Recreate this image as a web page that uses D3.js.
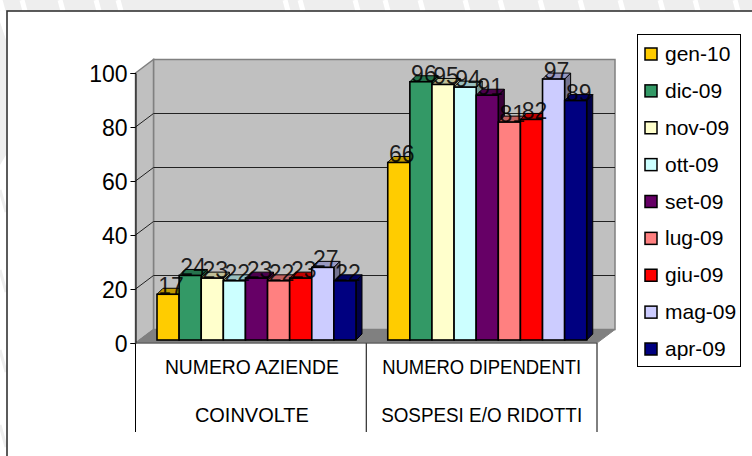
<!DOCTYPE html>
<html><head><meta charset="utf-8">
<script src="https://cdn.jsdelivr.net/npm/d3@7"></script>
<style>
html,body{margin:0;padding:0;background:#fff}
svg{display:block}
text{font-family:"Liberation Sans",Arial,sans-serif;fill:#000}
</style></head><body><div id="c"></div>
<script>
const categoryLine1 = ["NUMERO AZIENDE","NUMERO DIPENDENTI"];
const categoryLine2 = ["COINVOLTE","SOSPESI E/O RIDOTTI"];
const seriesNames = ["gen-10","dic-09","nov-09","ott-09","set-09","lug-09","giu-09","mag-09","apr-09"];
const seriesColors = ["#ffcc00","#339966","#ffffcc","#ccffff","#660066","#ff8080","#ff0000","#ccccff","#000080"];
const aziende = [17,24,23,22,23,22,23,27,22];
const dipendenti = [66,96,95,94,91,81,82,97,89];
const yTicks = [0,20,40,60,80,100];
const W=752,H=456;
const svg=d3.select("#c").append("svg").attr("width",W).attr("height",H);

// faint slide background showing around the frame
svg.append("rect").attr("x",0).attr("y",0).attr("width",W).attr("height",11).attr("fill","#eeeeee");
svg.append("path").attr("d","M0,22L6,40L6,155L0,165Z").attr("fill","#eeeeee");
svg.append("g").selectAll("path").data([0,22,60,96,118,285,300,355,385,420,465,500,540,580,620,660,695,735]).join("path")
  .attr("d",d=>`M${d},0L${d+3},11`).attr("stroke","#fff").attr("stroke-width",5);
svg.append("g").selectAll("path").data([190,270,350,425]).join("path")
  .attr("d",d=>`M0,${d}L6,${d+22}`).attr("stroke","#eeeeee").attr("stroke-width",3);

// frame
svg.append("rect").attr("x",7).attr("y",11).attr("width",W-7+5).attr("height",H-11+5).attr("fill","#fff").attr("stroke","#333").attr("stroke-width",1.6);

const depth={x:18,y:-13.5};
const y=d3.scaleLinear().domain([0,100]).range([343,73]);
const yBar=d3.scaleLinear().domain([0,100]).range([340,71]);
const x0=d3.scaleBand().domain([0,1]).range([135.5,597]);
const x1=d3.scaleBand().domain(seriesNames).range([21.5,220.5]);
const grey="#808080", wall="#c0c0c0";
const xL=x0.range()[0], xR=x0.range()[1];

// back wall
svg.append("rect").attr("x",xL+depth.x).attr("y",y(100)+depth.y).attr("width",xR-xL).attr("height",y(0)-y(100))
 .attr("fill",wall).attr("stroke",grey).attr("stroke-width",1.5);
// side wall
svg.append("path").attr("d",`M${xL},${y(100)}L${xL+depth.x},${y(100)+depth.y}L${xL+depth.x},${y(0)+depth.y}L${xL},${y(0)}Z`)
 .attr("fill",wall).attr("stroke",grey).attr("stroke-width",1.5);
// floor
svg.append("path").attr("d",`M${xL},${y(0)}L${xL+depth.x},${y(0)+depth.y}L${xR+depth.x},${y(0)+depth.y}L${xR},${y(0)}Z`)
 .attr("fill",grey).attr("stroke",grey);
// gridlines
yTicks.filter(t=>t>0&&t<100).forEach(t=>{
  svg.append("path").attr("d",`M${xL},${y(t)}L${xL+depth.x},${y(t)+depth.y}L${xR+depth.x},${y(t)+depth.y}`)
   .attr("fill","none").attr("stroke","#222").attr("stroke-width",1);
});

// y axis
const axis=d3.axisLeft(y).tickValues(yTicks).tickSize(5).tickPadding(3);
const ga=svg.append("g").attr("transform",`translate(${xL},0)`).call(axis);
ga.selectAll("path,line").attr("stroke","#000").attr("stroke-width",1);
ga.selectAll("text").style("font-size","23px").style("font-family",'"Liberation Sans"').attr("dy","0.36em");

// category dividers
[0,1,2].forEach(i=>{
  const px=xL+i*x0.bandwidth();
  svg.append("line").attr("x1",px).attr("x2",px).attr("y1",y(0)).attr("y2",432).attr("stroke","#000");
});
svg.append("line").attr("x1",xL).attr("x2",xR).attr("y1",y(0)).attr("y2",y(0)).attr("stroke","#555");

const labels=[];
[aziende,dipendenti].forEach((vals,g)=>{
  const gg=svg.append("g");
  vals.forEach((v,i)=>{
    const name=seriesNames[i], c=d3.color(seriesColors[i]);
    const l=x0(g)+x1(name), r=l+x1.bandwidth(), t=yBar(v), b=yBar(0), dx=6, dy=-6;
    gg.append("path").attr("d",`M${r},${b}L${r+dx},${b+dy}L${r+dx},${t+dy}L${r},${t}Z`).attr("fill",c.darker(1.6)).attr("stroke","#000").attr("stroke-width",1);
    gg.append("path").attr("d",`M${l},${t}L${l+dx},${t+dy}L${r+dx},${t+dy}L${r},${t}Z`).attr("fill",c.darker(0.8)).attr("stroke","#000").attr("stroke-width",1);
  });
  vals.forEach((v,i)=>{
    const name=seriesNames[i];
    const l=x0(g)+x1(name), t=yBar(v), b=yBar(0);
    gg.append("rect").attr("x",l).attr("y",t).attr("width",x1.bandwidth()).attr("height",b-t)
      .attr("fill",seriesColors[i]).attr("stroke","#000").attr("stroke-width",1.6);
    labels.push({v,x:l+x1.bandwidth()/2+3,y:t});
  });
});
svg.append("g").selectAll("text").data(labels).join("text")
  .attr("x",d=>d.x).attr("y",d=>d.y).attr("text-anchor","middle").style("font-size","23px").attr("fill-opacity",.85).text(d=>d.v);

// category labels, fitted to the width they occupy in the reference
const line1Width=[174,199], line2Width=[114,201];
[0,1].forEach(i=>{
  const cx=x0(i)+x0.bandwidth()/2+(i?0:1);
  svg.append("text").attr("x",cx).attr("y",374).attr("text-anchor","middle").style("font-size","19.5px").attr("textLength",line1Width[i]).attr("lengthAdjust","spacingAndGlyphs").text(categoryLine1[i]);
  svg.append("text").attr("x",cx).attr("y",422).attr("text-anchor","middle").style("font-size","19.5px").attr("textLength",line2Width[i]).attr("lengthAdjust","spacingAndGlyphs").text(categoryLine2[i]);
});

// legend
svg.append("rect").attr("x",637.5).attr("y",34.5).attr("width",103).attr("height",332).attr("fill","#fff").attr("stroke","#000");
const ly=d3.scalePoint().domain(seriesNames).range([54,349]);
const lg=svg.append("g").selectAll("g").data(seriesNames).join("g").attr("transform",d=>`translate(645,${ly(d)})`);
lg.append("rect").attr("x",0).attr("y",-6).attr("width",12).attr("height",12).attr("fill",(d,i)=>seriesColors[i]).attr("stroke","#000").attr("stroke-width",1.5);
lg.append("text").attr("x",20).attr("y",7).style("font-size","21px").text(d=>d);
</script></body></html>
